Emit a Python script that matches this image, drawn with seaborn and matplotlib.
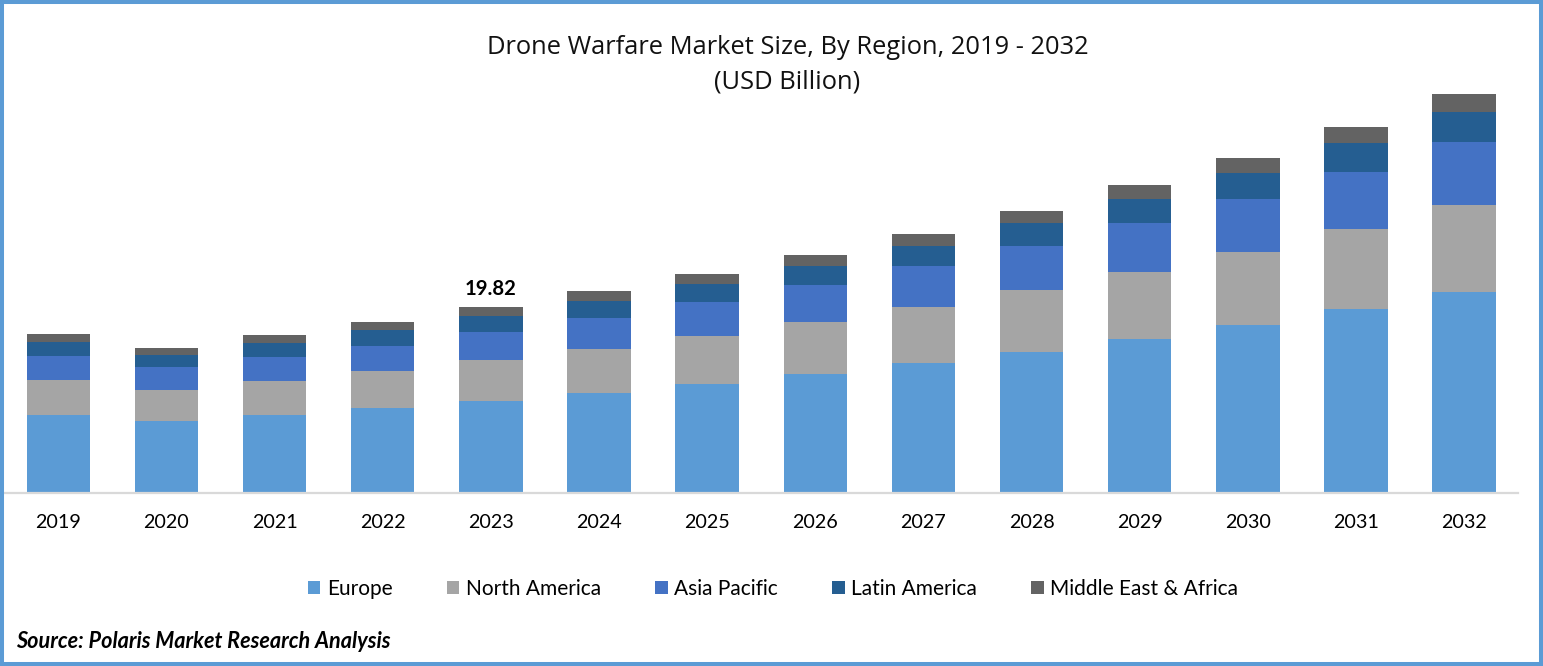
import numpy as np
import pandas as pd
import matplotlib.pyplot as plt
import matplotlib.patches as patches
import seaborn as sns

years = [2019, 2020, 2021, 2022, 2023, 2024, 2025, 2026, 2027, 2028, 2029, 2030, 2031, 2032]
europe = [8.31, 7.67, 8.31, 9.06, 9.80, 10.66, 11.62, 12.68, 13.85, 15.03, 16.41, 17.90, 19.61, 21.42]
north_america = [3.73, 3.30, 3.62, 3.94, 4.37, 4.69, 5.11, 5.54, 5.97, 6.61, 7.14, 7.78, 8.52, 9.27]
asia_pacific = [2.56, 2.45, 2.56, 2.66, 2.98, 3.30, 3.62, 3.94, 4.37, 4.69, 5.22, 5.65, 6.07, 6.71]
latin_america = [1.49, 1.28, 1.49, 1.70, 1.70, 1.81, 1.92, 2.02, 2.13, 2.45, 2.56, 2.77, 3.09, 3.20]
middle_east = [0.85, 0.75, 0.85, 0.85, 0.96, 1.07, 1.07, 1.17, 1.28, 1.28, 1.49, 1.60, 1.70, 1.92]

regions = ["Europe", "North America", "Asia Pacific", "Latin America", "Middle East & Africa"]
colors = ["#5B9BD5", "#A5A5A5", "#4472C4", "#255E91", "#636363"]

df = pd.DataFrame(
    dict(zip(regions, [europe, north_america, asia_pacific, latin_america, middle_east])),
    index=years,
)

sns.set_theme(style="white")
plt.rcParams["font.family"] = ["Lato", "DejaVu Sans"]

W, H = 1543, 666
fig = plt.figure(figsize=(W / 100, H / 100), dpi=100, facecolor="white")
ax = fig.add_axes([4.2 / W, 1 - 493 / H, 1514 / W, 413 / H])

# stacked bars, one region at a time
bottom = np.zeros(len(years))
for region, color in zip(regions, colors):
    sns.barplot(x=df.index, y=df[region].values, bottom=bottom, color=color, saturation=1,
                width=0.586, linewidth=0, label=region, ax=ax, legend=False)
    bottom = bottom + df[region].values

ax.set_xlim(-0.5, 13.5)
ax.set_ylim(0, 44)
ax.set_yticks([])
ax.set_xlabel("")
ax.set_ylabel("")
sns.despine(ax=ax, left=True)
ax.spines["bottom"].set_color("#D9D9D9")
ax.spines["bottom"].set_linewidth(1.6)
ax.tick_params(axis="x", length=0, pad=15, labelsize=14.2, labelcolor="black")

# the only labelled total
ax.text(4, bottom[4] + 0.85, "19.82", ha="center", va="bottom", fontsize=14.6, fontweight="bold", color="black")

handles, labels = ax.get_legend_handles_labels()
fig.legend(handles, labels, ncols=5, loc="center", bbox_to_anchor=(773 / W, 1 - 589 / H), frameon=False,
           fontsize=15, handlelength=0.62, handleheight=0.6, handletextpad=0.3, columnspacing=2.6,
           labelcolor="black")

fig.text(787.5 / W, 1 - 47 / H, "Drone Warfare Market Size, By Region, 2019 - 2032", ha="center", va="center",
         fontsize=18.35, color="#111111", family=["Open Sans", "DejaVu Sans"])
fig.text(787.5 / W, 1 - 82 / H, "(USD Billion)", ha="center", va="center",
         fontsize=18.35, color="#111111", family=["Open Sans", "DejaVu Sans"])
fig.text(16.5 / W, 1 - 642 / H, "Source: Polaris Market Research Analysis", ha="left", va="center",
         fontsize=15.6, fontweight="bold", fontstyle="italic", color="black")

# blue frame around the picture
fig.add_artist(patches.Rectangle((2 / W, 2 / H), (W - 4) / W, (H - 4) / H, transform=fig.transFigure,
                                 fill=False, edgecolor="#5B9BD5", linewidth=2.9))

fig.savefig("out.png", dpi=100)
